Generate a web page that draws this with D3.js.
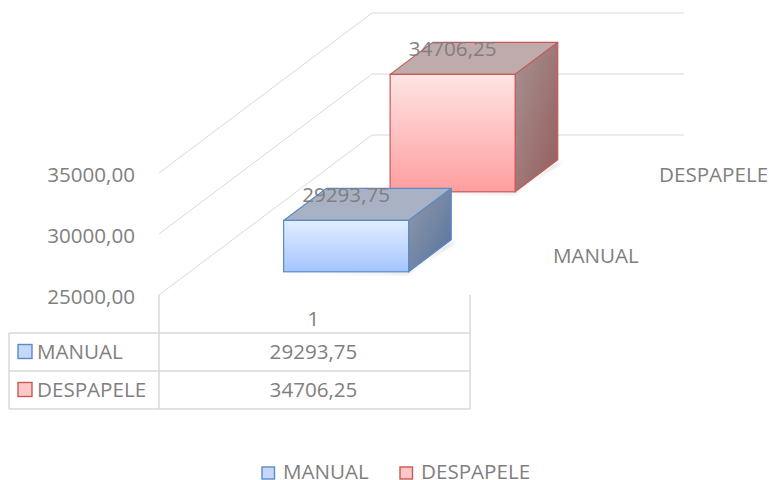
<!DOCTYPE html>
<html><head><meta charset="utf-8">
<script src="https://cdn.jsdelivr.net/npm/d3@7"></script>
<style>html,body{margin:0;padding:0;background:#fff}svg{display:block}text{font-family:"Open Sans",sans-serif;fill:#7f7f7f}</style>
</head><body><div id="c"></div>
<script>
const seriesNames=["MANUAL","DESPAPELE"];
const seriesValues=[29293.75,34706.25];
const categories=["1"];
const valueTicks=[25000,30000,35000];
const tickLabels=["25000,00","30000,00","35000,00"];
const valueLabels=["29293,75","34706,25"];
const fills=[
 {front:["#e3eeff","#a3c4ff"],top:"#a9b2c4",side:["#929aa9","#55729f"],line:"#5b8ac6",key:"#c5d8f8"},
 {front:["#ffe4e4","#ff9e9e"],top:"#bfabab",side:["#a79393","#955c5c"],line:"#c55a57",key:"#ffc7c7"}
];
const W=769,H=480,FS=20.6;
const svg=d3.select("#c").append("svg").attr("width",W).attr("height",H);
const y=d3.scaleLinear().domain([25000,35000]).range([295,173]);
const x=d3.scaleBand().domain(categories).range([159,470]).paddingInner(0).paddingOuter(0);
const depthPx=d3.scaleBand().domain(seriesNames).range([0,1]).paddingInner(0.6).paddingOuter(0.3);
const dx=d3.scaleLinear().domain([0,1]).range([0,213]);
const dy=d3.scaleLinear().domain([0,1]).range([0,-160]);
const defs=svg.append("defs");
defs.append("filter").attr("id","blur").attr("x","-20%").attr("y","-20%").attr("width","140%").attr("height","140%")
  .append("feGaussianBlur").attr("stdDeviation",1.4);
fills.forEach((f,i)=>{
  const g=defs.append("linearGradient").attr("id","f"+i).attr("x1",0).attr("y1",0).attr("x2",0).attr("y2",1);
  g.append("stop").attr("offset",0).attr("stop-color",f.front[0]);
  g.append("stop").attr("offset",1).attr("stop-color",f.front[1]);
  const s=defs.append("linearGradient").attr("id","s"+i).attr("x1",0).attr("y1",0).attr("x2",1).attr("y2",1);
  s.append("stop").attr("offset",0).attr("stop-color",f.side[0]);
  s.append("stop").attr("offset",1).attr("stop-color",f.side[1]);
});
const grid="#d9d9d9";
valueTicks.forEach(v=>{
  const y0=y(v);
  svg.append("path").attr("fill","none").attr("stroke",grid).attr("stroke-width",1)
    .attr("d",`M159,${y0}L${159+dx(1)},${y0+dy(1)}H684`);
});
valueTicks.forEach((v,i)=>{
  svg.append("text").attr("x",135).attr("y",y(v)+2).attr("dy","0.36em").attr("text-anchor","end")
    .attr("font-size",FS).text(tickLabels[i]);
});
const rows=[333,371,409];
const tb=svg.append("g").attr("stroke",grid).attr("stroke-width",1.5).attr("fill","none");
tb.append("path").attr("d",`M159,295V409M470,295V409`);
rows.forEach(r=>tb.append("path").attr("d",`M9,${r}H470`));
tb.append("path").attr("d",`M9,333V409`);
svg.append("text").attr("x",x("1")+x.bandwidth()/2-1).attr("y",319).attr("dy","0.36em").attr("text-anchor","middle").attr("font-size",FS).text(categories[0]);
seriesNames.forEach((n,i)=>{
  const cy=(rows[i]+rows[i+1])/2;
  svg.append("rect").attr("x",18).attr("y",cy-7.5).attr("width",14).attr("height",14)
    .attr("fill",fills[i].key).attr("stroke",fills[i].line).attr("stroke-width",1.4);
  svg.append("text").attr("x",37).attr("y",cy).attr("dy","0.36em").attr("font-size",FS).text(n);
  svg.append("text").attr("x",x("1")+x.bandwidth()/2-1).attr("y",cy).attr("dy","0.36em").attr("text-anchor","middle").attr("font-size",FS).text(valueLabels[i]);
});
const inset=0.298*x.bandwidth(), bw=0.402*x.bandwidth();
[1,0].forEach(i=>{
  const n=seriesNames[i],t0=depthPx(n),t1=t0+depthPx.bandwidth();
  const bx=x("1")+inset+dx(t0), base=y(25000)+dy(t0)+0.8, ty=y(seriesValues[i])+dy(t0)+1.8;
  const ox=dx(t1)-dx(t0), oy=dy(t1)-dy(t0);
  const g=svg.append("g");
  g.append("path").attr("d",`M${bx},${base+1}H${bx+bw}L${bx+bw+ox+6},${base+oy+1}L${bx+bw+ox-4},${base+oy+6}L${bx+bw},${base+2}Z`)
    .attr("fill","#8a8a8a").attr("opacity",.6).attr("filter","url(#blur)");
  g.append("path").attr("d",`M${bx},${ty}L${bx+ox},${ty+oy}H${bx+bw+ox}L${bx+bw},${ty}Z`)
    .attr("fill",fills[i].top).attr("stroke",fills[i].line).attr("stroke-width",1.2).attr("stroke-linejoin","round");
  g.append("path").attr("d",`M${bx+bw},${ty}L${bx+bw+ox},${ty+oy}V${base+oy}L${bx+bw},${base}Z`)
    .attr("fill",`url(#s${i})`).attr("stroke",fills[i].line).attr("stroke-width",1.2).attr("stroke-linejoin","round");
  g.append("rect").attr("x",bx).attr("y",ty).attr("width",bw).attr("height",base-ty)
    .attr("fill",`url(#f${i})`).attr("stroke",fills[i].line).attr("stroke-width",1.2);
  g.append("text").attr("x",bx+bw/2).attr("y",ty-26).attr("dy","0.36em").attr("text-anchor","middle").attr("font-size",FS).text(valueLabels[i]);
});
svg.append("text").attr("x",553).attr("y",256).attr("dy","0.36em").attr("font-size",FS).text(seriesNames[0]);
svg.append("text").attr("x",659).attr("y",175).attr("dy","0.36em").attr("font-size",FS).text(seriesNames[1]);
[[262,283],[400,421]].forEach((p,i)=>{
  svg.append("rect").attr("x",p[0]).attr("y",467).attr("width",12.5).attr("height",12).attr("fill",fills[i].key).attr("stroke",fills[i].line).attr("stroke-width",1.4);
  svg.append("text").attr("x",p[1]).attr("y",479).attr("font-size",FS).text(seriesNames[i]);
});
</script></body></html>
